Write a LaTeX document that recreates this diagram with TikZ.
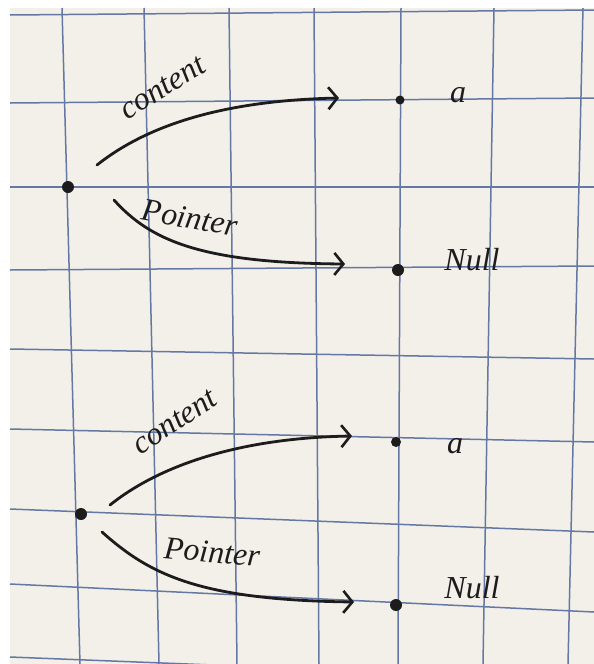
\documentclass[tikz,border=0pt]{standalone}
\usepackage{fontspec}
\setmainfont{Liberation Serif}
\usetikzlibrary{arrows.meta}
\definecolor{paper}{HTML}{F3F0EA}
\definecolor{gridc}{HTML}{6478A6}
\definecolor{ink}{HTML}{1C1C1C}
\tikzset{
  gridline/.style={draw=gridc, line width=1.5pt},
  dotnode/.style={circle, fill=ink, inner sep=0pt, minimum size=12pt},
  conn/.style={draw=ink, line width=2.8pt, line cap=round, -{Straight Barb[length=9pt,width=22pt,line width=2.6pt]}},
  lab/.style={text=ink, font=\itshape\fontsize{32}{34}\selectfont, inner sep=0pt},
}
\begin{document}
\begin{tikzpicture}[x=1pt,y=-1pt]
\useasboundingbox (0,0) rectangle (594,664);
\fill[white] (0,0) rectangle (594,664);
\fill[paper] (10,8) rectangle (594,664);
% grid
\draw[gridline] (62,8) -- (80,664);
\draw[gridline] (144,8) -- (159,664);
\draw[gridline] (229,8) -- (237,664);
\draw[gridline] (314,8) -- (319,664);
\draw[gridline] (401,8) -- (398,664);
\draw[gridline] (494,8) -- (483,664);
\draw[gridline] (583,8) -- (568,664);
\draw[gridline] (10,15) -- (594,10);
\draw[gridline] (10,103) -- (594,98);
\draw[gridline] (10,187) -- (594,187);
\draw[gridline] (10,270) -- (594,266);
\draw[gridline] (10,349) -- (594,359);
\draw[gridline] (10,429) -- (594,442);
\draw[gridline] (10,509) -- (594,532);
\draw[gridline] (10,584) -- (594,612);
\draw[gridline] (10,657) -- (594,680);
% top diagram
\node[dotnode] (s1) at (68,187) {};
\node[dotnode, minimum size=9pt] (a1) at (400,100) {};
\node[dotnode] (n1) at (398,270) {};
\node[lab] (la1) at (458,95) {a};
\node[lab] (ln1) at (472,260) {Null};
\coordinate (c1s) at (97,165);
\coordinate (c1e) at (339,98);
\coordinate (p1s) at (114,200);
\coordinate (p1e) at (345,264);
\draw[conn] (c1s) .. controls (160,115) and (250,100) .. (c1e);
\draw[conn] (p1s) .. controls (150,240) and (200,263) .. (p1e);
\node[lab, rotate=32] (lc1) at (163,88) {content};
\node[lab, rotate=-10] (lp1) at (190,218) {Pointer};
% bottom diagram
\node[dotnode] (s2) at (81,514) {};
\node[dotnode, minimum size=10pt] (a2) at (396,442) {};
\node[dotnode] (n2) at (396,605) {};
\node[lab] (la2) at (455,446) {a};
\node[lab] (ln2) at (472,588) {Null};
\coordinate (c2s) at (110,505);
\coordinate (c2e) at (352,436);
\coordinate (p2s) at (102,532);
\coordinate (p2e) at (354,602);
\draw[conn] (c2s) .. controls (160,465) and (240,438) .. (c2e);
\draw[conn] (p2s) .. controls (150,575) and (200,600) .. (p2e);
\node[lab, rotate=33] (lc2) at (175,422) {content};
\node[lab, rotate=-5] (lp2) at (212,552) {Pointer};
\end{tikzpicture}
\end{document}
